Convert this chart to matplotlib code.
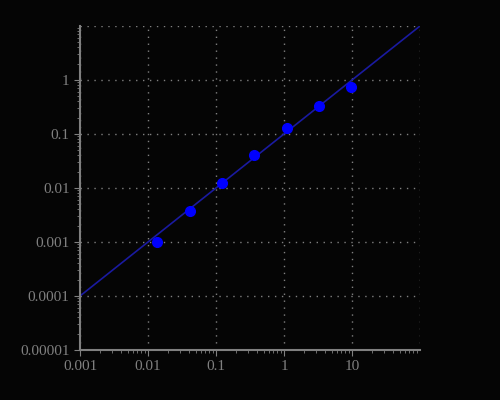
import matplotlib
matplotlib.use("Agg")
import matplotlib.pyplot as plt
import numpy as np

x_pts = [0.0136, 0.0415, 0.1225, 0.362, 1.107, 3.27, 9.67]
y_pts = [0.001, 0.00375, 0.0124, 0.0408, 0.129, 0.330, 0.741]
line_x = [0.001, 100]
line_y = [0.0001, 10]
xticks = [0.001, 0.01, 0.1, 1, 10]
xtick_labels = ["0.001", "0.01", "0.1", "1", "10"]
yticks = [0.00001, 0.0001, 0.001, 0.01, 0.1, 1]
ytick_labels = ["0.00001", "0.0001", "0.001", "0.01", "0.1", "1"]

bg = "#050505"
gray = "#808080"
plt.rcParams['font.family'] = ['Liberation Serif', 'DejaVu Serif']

fig = plt.figure(figsize=(5, 4), dpi=100, facecolor=bg)
ax = fig.add_axes([0.16, 0.125, 0.68, 0.81], facecolor=bg)
ax.set_xscale('log')
ax.set_yscale('log')
ax.set_xlim(0.001, 100)
ax.set_ylim(0.00001, 10)

ax.plot(line_x, line_y, color="#1a1aa0", lw=1.2, zorder=2)
ax.plot(x_pts, y_pts, 'o', color="#0000ff", ms=7, zorder=3)

gridx = xticks + [100]
gridy = yticks + [10]
for gx in gridx:
    ax.axvline(gx, color=gray, ls=(0, (1, 4)), lw=1, zorder=1)
for gy in gridy:
    ax.axhline(gy, color=gray, ls=(0, (1, 4)), lw=1, zorder=1)

ax.set_xticks(xticks)
ax.set_xticklabels(xtick_labels)
ax.set_yticks(yticks)
ax.set_yticklabels(ytick_labels)
ax.tick_params(axis='both', which='major', colors=gray, labelcolor=gray, labelsize=11, length=4, direction='out')
ax.tick_params(axis='both', which='minor', colors=gray, length=2, direction='out')
for s in ['top', 'right']:
    ax.spines[s].set_visible(False)
for s in ['left', 'bottom']:
    ax.spines[s].set_color(gray)
    ax.spines[s].set_linewidth(1.5)

fig.savefig("out.png", dpi=100, facecolor=bg)
